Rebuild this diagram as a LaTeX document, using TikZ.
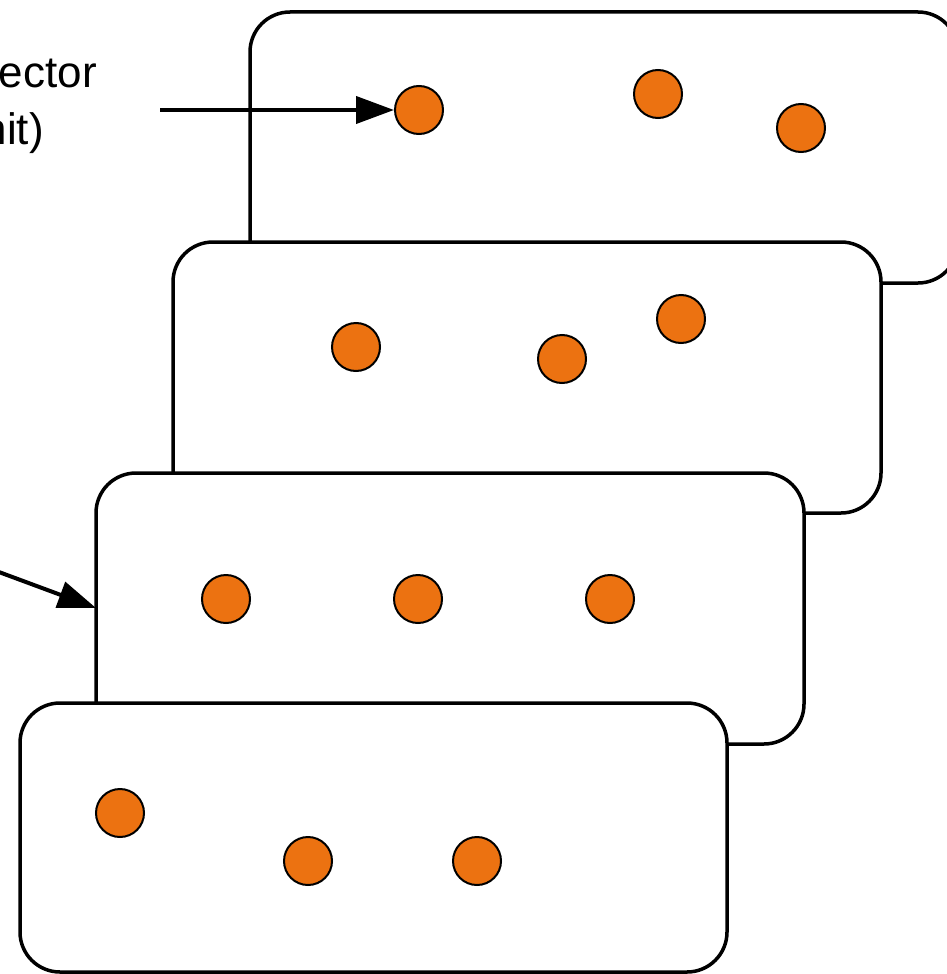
\documentclass[tikz,border=0pt]{standalone}
\usepackage{fontspec}
\setmainfont{Liberation Sans}
\usetikzlibrary{arrows.meta,positioning}
\definecolor{dotorange}{HTML}{EC7211}

\begin{document}
\begin{tikzpicture}[x=1pt, y=-1pt,
    card/.style={draw, line width=3.5pt, fill=white, rounded corners=40pt},
    dot/.style={circle, draw, line width=2pt, fill=dotorange, minimum size=48pt, inner sep=0pt},
    pointer/.style={line width=4pt, -{Triangle[length=38pt, width=27pt]}},
    lbl/.style={font=\fontsize{44}{52}\selectfont, inner sep=0pt}]
  \useasboundingbox (0,0) rectangle (946,974);
  % Stacked cards, back to front
  \draw[card] (250,12) rectangle (958,283);
  \node[dot] (a1) at (419,110) {};
  \node[dot] (a2) at (658,94) {};
  \node[dot] (a3) at (801,128) {};

  \draw[card] (173,242) rectangle (881,513);
  \node[dot] (b1) at (356,347) {};
  \node[dot] (b2) at (562,359) {};
  \node[dot] (b3) at (681,319) {};

  \draw[card] (96,473) rectangle (804,744);
  \node[dot] (c1) at (226,599) {};
  \node[dot] (c2) at (418,599) {};
  \node[dot] (c3) at (610,599) {};

  \draw[card] (20,703) rectangle (727,972);
  \node[dot] (d1) at (120,813) {};
  \node[dot] (d2) at (308,861) {};
  \node[dot] (d3) at (477,861) {};

  % Labels running off the left edge
  \node[lbl, anchor=base east] (top1) at (97,88) {ector};
  \node[lbl, anchor=base east] (top2) at (44,144) {nit)};

  % Arrows
  \coordinate (start1) at (160,110);
  \draw[pointer] (start1) -- (a1.west);
  \coordinate (start2) at (-20,565);
  \coordinate (edge3) at (96,608);
  \draw[pointer] (start2) -- (edge3);
\end{tikzpicture}
\end{document}
